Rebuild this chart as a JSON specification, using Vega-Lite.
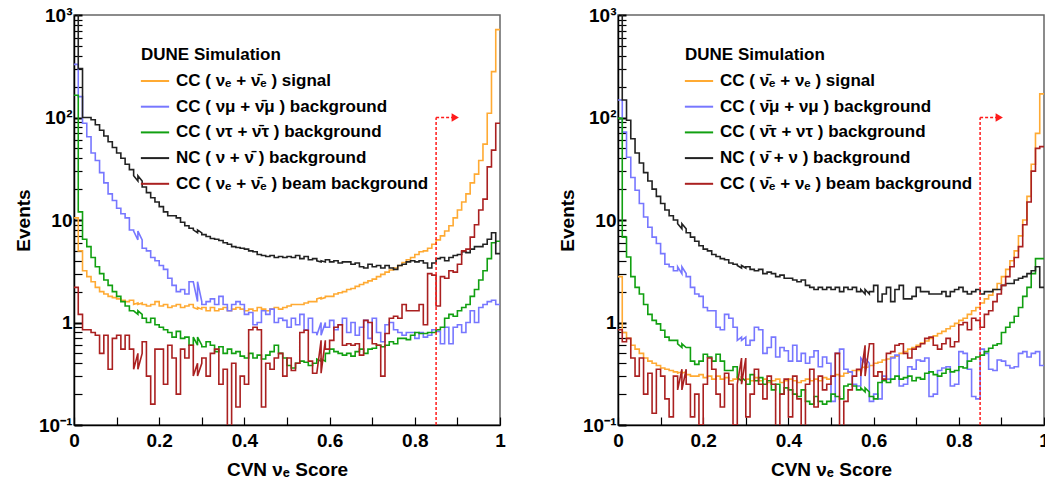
{
 "$schema": "https://vega.github.io/schema/vega-lite/v6.json",
 "padding": {"left": 13, "top": 5, "right": 0, "bottom": 0},
 "background": "white",
 "spacing": 50,
 "resolve": {"scale": {"color": "independent"}, "legend": {"color": "independent"}},
 "datasets": {
  "cut": [{"cut": 0.85, "floor": 0.1, "level": 100, "reach": 0.888, "tip": 0.895}],
  "left": [
{"x":0.005,"a":10.5,"b":330,"c":165,"d":1500,"e":2.2},
{"x":0.015,"a":5.0,"b":160,"c":12,"d":300,"e":1.2},
{"x":0.025,"a":3.2,"b":88,"c":6.5,"d":100,"e":0.85},
{"x":0.035,"a":2.8,"b":65,"c":5.5,"d":100,"e":0.85},
{"x":0.045,"a":2.5,"b":45,"c":4.3,"d":95,"e":0.8},
{"x":0.055,"a":2.2,"b":38,"c":3.5,"d":85,"e":0.75},
{"x":0.065,"a":2.0,"b":29,"c":3.0,"d":75,"e":0.5},
{"x":0.075,"a":1.9,"b":23,"c":2.6,"d":66,"e":0.75},
{"x":0.085,"a":1.8,"b":18,"c":2.3,"d":58,"e":0.35},
{"x":0.095,"a":1.75,"b":15.5,"c":2.0,"d":51,"e":0.7},
{"x":0.105,"a":1.7,"b":13,"c":1.8,"d":45,"e":0.75},
{"x":0.115,"a":1.65,"b":11.5,"c":1.6,"d":40,"e":0.55},
{"x":0.125,"a":1.6,"b":10.5,"c":1.45,"d":35,"e":0.75},
{"x":0.135,"a":1.65,"b":8,"c":1.3,"d":31,"e":0.55},
{"x":0.145,"a":1.5,"b":7.8,"c":1.3,"d":27,"e":0.35},
{"x":0.155,"a":1.55,"b":6.4,"c":1.2,"d":24,"e":0.5},
{"x":0.165,"a":1.5,"b":5.3,"c":1.1,"d":21,"e":0.65},
{"x":0.175,"a":1.45,"b":5.0,"c":1.0,"d":18.5,"e":0.3},
{"x":0.185,"a":1.5,"b":4.3,"c":1.1,"d":16.5,"e":0.16},
{"x":0.195,"a":1.6,"b":4.0,"c":0.95,"d":15,"e":0.55},
{"x":0.205,"a":1.45,"b":3.6,"c":0.9,"d":13.5,"e":0.55},
{"x":0.215,"a":1.5,"b":3.3,"c":0.85,"d":12,"e":0.25},
{"x":0.225,"a":1.4,"b":2.7,"c":0.8,"d":11,"e":0.6},
{"x":0.235,"a":1.45,"b":2.3,"c":0.72,"d":11,"e":0.45},
{"x":0.245,"a":1.5,"b":2.0,"c":0.82,"d":10.5,"e":0.2},
{"x":0.255,"a":1.4,"b":2.1,"c":0.7,"d":9.5,"e":0.55},
{"x":0.265,"a":1.45,"b":1.9,"c":0.72,"d":8.8,"e":0.45},
{"x":0.275,"a":1.5,"b":2.5,"c":0.6,"d":8.3,"e":0.6},
{"x":0.285,"a":1.4,"b":2.5,"c":0.72,"d":8.0,"e":0.3},
{"x":0.295,"a":1.35,"b":1.6,"c":0.6,"d":7.5,"e":0.4},
{"x":0.305,"a":1.4,"b":1.5,"c":0.58,"d":7.2,"e":0.45},
{"x":0.315,"a":1.3,"b":1.6,"c":0.65,"d":6.9,"e":0.3},
{"x":0.325,"a":1.4,"b":1.7,"c":0.6,"d":6.6,"e":0.5},
{"x":0.335,"a":1.3,"b":1.5,"c":0.52,"d":6.5,"e":0.55},
{"x":0.345,"a":1.35,"b":1.8,"c":0.58,"d":6.3,"e":0.25},
{"x":0.355,"a":1.4,"b":1.5,"c":0.5,"d":6.0,"e":0.35},
{"x":0.365,"a":1.3,"b":1.3,"c":0.55,"d":5.8,"e":0.06},
{"x":0.375,"a":1.35,"b":1.5,"c":0.5,"d":5.5,"e":0.4},
{"x":0.385,"a":1.4,"b":1.6,"c":0.52,"d":5.4,"e":0.15},
{"x":0.395,"a":1.35,"b":1.5,"c":0.47,"d":5.3,"e":0.3},
{"x":0.405,"a":1.3,"b":1.2,"c":0.45,"d":5.2,"e":0.25},
{"x":0.415,"a":1.35,"b":1.25,"c":0.5,"d":5.0,"e":0.85},
{"x":0.425,"a":1.3,"b":0.95,"c":0.45,"d":4.9,"e":0.9},
{"x":0.435,"a":1.4,"b":1.0,"c":0.48,"d":4.6,"e":0.85},
{"x":0.445,"a":1.35,"b":1.3,"c":0.44,"d":4.5,"e":0.15},
{"x":0.455,"a":1.3,"b":1.2,"c":0.48,"d":4.4,"e":0.4},
{"x":0.465,"a":1.35,"b":1.35,"c":0.52,"d":4.5,"e":0.35},
{"x":0.475,"a":1.4,"b":1.0,"c":0.6,"d":4.3,"e":0.45},
{"x":0.485,"a":1.35,"b":1.1,"c":0.5,"d":4.4,"e":0.5},
{"x":0.495,"a":1.4,"b":1.05,"c":0.45,"d":4.3,"e":0.3},
{"x":0.505,"a":1.45,"b":0.9,"c":0.38,"d":4.4,"e":0.45},
{"x":0.515,"a":1.5,"b":1.1,"c":0.36,"d":4.3,"e":0.34},
{"x":0.525,"a":1.5,"b":0.95,"c":0.4,"d":4.5,"e":0.4},
{"x":0.535,"a":1.5,"b":1.2,"c":0.42,"d":4.2,"e":0.8},
{"x":0.545,"a":1.55,"b":0.85,"c":0.41,"d":4.4,"e":0.84},
{"x":0.555,"a":1.6,"b":1.1,"c":0.38,"d":4.1,"e":0.42},
{"x":0.565,"a":1.6,"b":0.8,"c":0.4,"d":4.2,"e":0.32},
{"x":0.575,"a":1.7,"b":0.75,"c":0.44,"d":4.0,"e":0.32},
{"x":0.585,"a":1.75,"b":1.0,"c":0.42,"d":3.9,"e":0.67},
{"x":0.595,"a":1.8,"b":0.9,"c":0.5,"d":4.1,"e":0.55},
{"x":0.605,"a":1.8,"b":1.05,"c":0.55,"d":3.9,"e":0.67},
{"x":0.615,"a":1.9,"b":0.85,"c":0.52,"d":4.0,"e":0.9},
{"x":0.625,"a":1.95,"b":0.95,"c":0.5,"d":3.8,"e":0.95},
{"x":0.635,"a":2.0,"b":1.1,"c":0.48,"d":3.9,"e":0.6},
{"x":0.645,"a":2.1,"b":0.8,"c":0.5,"d":3.9,"e":0.62},
{"x":0.655,"a":2.15,"b":1.0,"c":0.47,"d":3.7,"e":0.6},
{"x":0.665,"a":2.25,"b":0.75,"c":0.52,"d":3.8,"e":0.62},
{"x":0.675,"a":2.35,"b":0.9,"c":0.55,"d":3.5,"e":0.48},
{"x":0.685,"a":2.45,"b":1.05,"c":0.5,"d":3.4,"e":1.05},
{"x":0.695,"a":2.55,"b":0.7,"c":0.55,"d":3.7,"e":1.0},
{"x":0.705,"a":2.65,"b":1.1,"c":0.56,"d":3.5,"e":0.62},
{"x":0.715,"a":2.8,"b":0.8,"c":0.6,"d":3.6,"e":0.6},
{"x":0.725,"a":2.95,"b":0.65,"c":0.58,"d":3.4,"e":0.3},
{"x":0.735,"a":3.1,"b":0.95,"c":0.6,"d":3.6,"e":0.78},
{"x":0.745,"a":3.25,"b":1.0,"c":0.65,"d":3.4,"e":1.1},
{"x":0.755,"a":3.4,"b":0.85,"c":0.62,"d":3.3,"e":1.15},
{"x":0.765,"a":3.6,"b":0.8,"c":0.7,"d":3.6,"e":1.1},
{"x":0.775,"a":3.85,"b":0.75,"c":0.7,"d":3.7,"e":1.5},
{"x":0.785,"a":4.1,"b":0.8,"c":0.68,"d":3.9,"e":1.3},
{"x":0.795,"a":4.3,"b":0.8,"c":0.75,"d":4.0,"e":1.3},
{"x":0.805,"a":4.6,"b":0.7,"c":0.8,"d":3.9,"e":1.3},
{"x":0.815,"a":4.9,"b":0.8,"c":0.78,"d":4.0,"e":1.5},
{"x":0.825,"a":5.0,"b":0.72,"c":0.78,"d":3.8,"e":0.95},
{"x":0.835,"a":5.3,"b":0.75,"c":0.8,"d":3.4,"e":3.0},
{"x":0.845,"a":5.8,"b":0.85,"c":0.8,"d":3.8,"e":2.9},
{"x":0.855,"a":6.4,"b":0.82,"c":0.85,"d":4.2,"e":1.45},
{"x":0.865,"a":7.0,"b":0.62,"c":0.9,"d":4.3,"e":2.8},
{"x":0.875,"a":7.8,"b":0.9,"c":1.1,"d":4.0,"e":2.7},
{"x":0.885,"a":8.8,"b":0.62,"c":1.2,"d":4.3,"e":3.2},
{"x":0.895,"a":10.5,"b":0.9,"c":1.15,"d":4.5,"e":3.1},
{"x":0.905,"a":12.5,"b":0.95,"c":1.3,"d":4.6,"e":3.7},
{"x":0.915,"a":15,"b":0.8,"c":1.4,"d":4.9,"e":5.0},
{"x":0.925,"a":18,"b":1.0,"c":1.5,"d":4.8,"e":5.2},
{"x":0.935,"a":23,"b":1.3,"c":1.8,"d":5.2,"e":6.8},
{"x":0.945,"a":28,"b":1.0,"c":2.1,"d":5.5,"e":9.0},
{"x":0.955,"a":38,"b":1.4,"c":2.6,"d":5.5,"e":12.5},
{"x":0.965,"a":55,"b":1.5,"c":3.2,"d":5.8,"e":16},
{"x":0.975,"a":110,"b":1.6,"c":4.2,"d":6.5,"e":33},
{"x":0.985,"a":280,"b":1.65,"c":6.0,"d":7.5,"e":48},
{"x":0.995,"a":720,"b":1.5,"c":6.2,"d":4.7,"e":88}
  ],
  "right": [
{"x":0.005,"a":2.8,"b":148,"c":98,"d":1500,"e":0.85},
{"x":0.015,"a":0.8,"b":72,"c":6.8,"d":148,"e":0.65},
{"x":0.025,"a":0.7,"b":41,"c":4.35,"d":94,"e":0.7},
{"x":0.035,"a":0.6,"b":26,"c":2.8,"d":62,"e":0.45},
{"x":0.045,"a":0.55,"b":19.5,"c":2.2,"d":45,"e":0.3},
{"x":0.055,"a":0.5,"b":14.5,"c":1.9,"d":36,"e":0.45},
{"x":0.065,"a":0.45,"b":10.7,"c":1.5,"d":29,"e":0.2},
{"x":0.075,"a":0.42,"b":8.5,"c":1.2,"d":24,"e":0.32},
{"x":0.085,"a":0.4,"b":6.8,"c":1.05,"d":20,"e":0.13},
{"x":0.095,"a":0.38,"b":5.9,"c":0.97,"d":17,"e":0.35},
{"x":0.105,"a":0.36,"b":4.7,"c":0.84,"d":14.5,"e":0.3},
{"x":0.115,"a":0.35,"b":3.7,"c":0.72,"d":12.5,"e":0.18},
{"x":0.125,"a":0.34,"b":3.5,"c":0.67,"d":11,"e":0.12},
{"x":0.135,"a":0.33,"b":3.2,"c":0.67,"d":10,"e":0.3},
{"x":0.145,"a":0.32,"b":3.5,"c":0.62,"d":9.2,"e":0.22},
{"x":0.155,"a":0.33,"b":3.0,"c":0.57,"d":8.2,"e":0.35},
{"x":0.165,"a":0.31,"b":2.8,"c":0.57,"d":7.5,"e":0.25},
{"x":0.175,"a":0.3,"b":2.2,"c":0.42,"d":6.8,"e":0.12},
{"x":0.185,"a":0.3,"b":1.9,"c":0.39,"d":6.2,"e":0.2},
{"x":0.195,"a":0.31,"b":1.8,"c":0.42,"d":5.6,"e":0.1},
{"x":0.205,"a":0.29,"b":1.4,"c":0.49,"d":5.2,"e":0.25},
{"x":0.215,"a":0.3,"b":1.3,"c":0.46,"d":5.0,"e":0.45},
{"x":0.225,"a":0.28,"b":1.3,"c":0.42,"d":4.6,"e":0.35},
{"x":0.235,"a":0.3,"b":0.9,"c":0.49,"d":4.4,"e":0.2},
{"x":0.245,"a":0.28,"b":0.85,"c":0.42,"d":4.2,"e":0.15},
{"x":0.255,"a":0.29,"b":1.2,"c":0.34,"d":4.1,"e":0.32},
{"x":0.265,"a":0.27,"b":1.1,"c":0.34,"d":3.8,"e":0.25},
{"x":0.275,"a":0.28,"b":0.9,"c":0.37,"d":3.7,"e":0.1},
{"x":0.285,"a":0.29,"b":0.67,"c":0.29,"d":3.6,"e":0.25},
{"x":0.295,"a":0.27,"b":0.72,"c":0.27,"d":3.4,"e":0.45},
{"x":0.305,"a":0.28,"b":0.6,"c":0.25,"d":3.5,"e":0.12},
{"x":0.315,"a":0.27,"b":0.67,"c":0.31,"d":3.3,"e":0.2},
{"x":0.325,"a":0.29,"b":0.9,"c":0.27,"d":3.2,"e":0.35},
{"x":0.335,"a":0.27,"b":0.85,"c":0.29,"d":3.3,"e":0.25},
{"x":0.345,"a":0.28,"b":0.5,"c":0.25,"d":3.0,"e":0.18},
{"x":0.355,"a":0.26,"b":0.57,"c":0.27,"d":3.1,"e":0.3},
{"x":0.365,"a":0.27,"b":0.72,"c":0.22,"d":3.0,"e":0.25},
{"x":0.375,"a":0.28,"b":0.46,"c":0.25,"d":2.8,"e":0.07},
{"x":0.385,"a":0.26,"b":0.57,"c":0.2,"d":2.9,"e":0.2},
{"x":0.395,"a":0.27,"b":0.53,"c":0.23,"d":2.7,"e":0.28},
{"x":0.405,"a":0.28,"b":0.42,"c":0.22,"d":2.7,"e":0.12},
{"x":0.415,"a":0.27,"b":0.6,"c":0.2,"d":2.6,"e":0.3},
{"x":0.425,"a":0.26,"b":0.42,"c":0.19,"d":2.5,"e":0.18},
{"x":0.435,"a":0.27,"b":0.5,"c":0.22,"d":2.6,"e":0.07},
{"x":0.445,"a":0.28,"b":0.4,"c":0.17,"d":2.3,"e":0.25},
{"x":0.455,"a":0.27,"b":0.46,"c":0.16,"d":2.2,"e":0.35},
{"x":0.465,"a":0.28,"b":0.53,"c":0.19,"d":2.1,"e":0.15},
{"x":0.475,"a":0.27,"b":0.37,"c":0.17,"d":2.2,"e":0.3},
{"x":0.485,"a":0.29,"b":0.46,"c":0.16,"d":2.1,"e":0.22},
{"x":0.495,"a":0.28,"b":0.4,"c":0.17,"d":2.2,"e":0.25},
{"x":0.505,"a":0.3,"b":0.17,"c":0.2,"d":2.1,"e":0.3},
{"x":0.515,"a":0.31,"b":0.5,"c":0.19,"d":2.2,"e":0.5},
{"x":0.525,"a":0.3,"b":0.55,"c":0.18,"d":2.0,"e":0.07},
{"x":0.535,"a":0.32,"b":0.35,"c":0.24,"d":2.2,"e":0.17},
{"x":0.545,"a":0.33,"b":0.33,"c":0.25,"d":2.1,"e":0.22},
{"x":0.555,"a":0.34,"b":0.25,"c":0.24,"d":2.2,"e":0.3},
{"x":0.565,"a":0.34,"b":0.24,"c":0.22,"d":2.0,"e":0.35},
{"x":0.575,"a":0.36,"b":0.45,"c":0.23,"d":2.1,"e":0.3},
{"x":0.585,"a":0.37,"b":0.4,"c":0.21,"d":1.9,"e":0.6},
{"x":0.595,"a":0.38,"b":0.17,"c":0.19,"d":2.0,"e":0.62},
{"x":0.605,"a":0.4,"b":0.2,"c":0.18,"d":2.3,"e":0.3},
{"x":0.615,"a":0.41,"b":0.18,"c":0.26,"d":1.6,"e":0.33},
{"x":0.625,"a":0.43,"b":0.3,"c":0.27,"d":1.9,"e":0.28},
{"x":0.635,"a":0.44,"b":0.28,"c":0.26,"d":2.2,"e":0.5},
{"x":0.645,"a":0.46,"b":0.45,"c":0.28,"d":1.6,"e":0.52},
{"x":0.655,"a":0.47,"b":0.48,"c":0.3,"d":2.1,"e":0.6},
{"x":0.665,"a":0.5,"b":0.24,"c":0.28,"d":2.3,"e":0.62},
{"x":0.675,"a":0.52,"b":0.25,"c":0.29,"d":1.7,"e":0.5},
{"x":0.685,"a":0.55,"b":0.37,"c":0.3,"d":1.7,"e":0.45},
{"x":0.695,"a":0.57,"b":0.35,"c":0.27,"d":1.8,"e":0.55},
{"x":0.705,"a":0.6,"b":0.43,"c":0.29,"d":2.2,"e":0.58},
{"x":0.715,"a":0.63,"b":0.42,"c":0.28,"d":2.0,"e":0.62},
{"x":0.725,"a":0.66,"b":0.45,"c":0.32,"d":2.0,"e":0.7},
{"x":0.735,"a":0.7,"b":0.19,"c":0.33,"d":1.9,"e":0.72},
{"x":0.745,"a":0.74,"b":0.2,"c":0.31,"d":1.9,"e":0.6},
{"x":0.755,"a":0.78,"b":0.34,"c":0.3,"d":1.9,"e":0.55},
{"x":0.765,"a":0.82,"b":0.36,"c":0.32,"d":2.0,"e":0.62},
{"x":0.775,"a":0.87,"b":0.37,"c":0.35,"d":1.8,"e":0.7},
{"x":0.785,"a":0.92,"b":0.24,"c":0.33,"d":2.0,"e":0.58},
{"x":0.795,"a":0.98,"b":0.25,"c":0.34,"d":2.1,"e":0.65},
{"x":0.805,"a":1.05,"b":0.52,"c":0.37,"d":2.2,"e":0.95},
{"x":0.815,"a":1.1,"b":0.5,"c":0.36,"d":2.0,"e":1.0},
{"x":0.825,"a":1.2,"b":0.35,"c":0.42,"d":1.9,"e":0.85},
{"x":0.835,"a":1.3,"b":0.19,"c":0.44,"d":2.0,"e":1.1},
{"x":0.845,"a":1.4,"b":0.18,"c":0.46,"d":2.1,"e":1.05},
{"x":0.855,"a":1.55,"b":0.55,"c":0.48,"d":1.9,"e":0.9},
{"x":0.865,"a":1.7,"b":0.5,"c":0.52,"d":2.0,"e":1.2},
{"x":0.875,"a":1.85,"b":0.35,"c":0.56,"d":2.0,"e":1.3},
{"x":0.885,"a":2.1,"b":0.34,"c":0.6,"d":2.1,"e":1.6},
{"x":0.895,"a":2.4,"b":0.43,"c":0.62,"d":2.1,"e":1.9},
{"x":0.905,"a":2.8,"b":0.42,"c":0.8,"d":2.3,"e":2.3},
{"x":0.915,"a":3.3,"b":0.38,"c":0.9,"d":2.4,"e":2.8},
{"x":0.925,"a":4.0,"b":0.36,"c":1.0,"d":2.4,"e":3.5},
{"x":0.935,"a":5.0,"b":0.37,"c":1.15,"d":2.6,"e":4.3},
{"x":0.945,"a":7.0,"b":0.5,"c":1.4,"d":2.7,"e":5.5},
{"x":0.955,"a":10,"b":0.52,"c":1.8,"d":2.8,"e":9},
{"x":0.965,"a":17,"b":0.46,"c":2.2,"d":3.0,"e":15},
{"x":0.975,"a":35,"b":0.5,"c":3.0,"d":3.2,"e":30},
{"x":0.985,"a":70,"b":0.52,"c":4.2,"d":3.5,"e":50},
{"x":0.995,"a":170,"b":0.38,"c":4.2,"d":2.2,"e":52}
  ]
 },
 "hconcat": [
  {
   "width": 426, "height": 410,
   "layer": [
    {
     "data": {"name": "left"},
     "transform": [
      {"fold": ["a","b","c","d","e"], "as": ["series","val"]},
      {"bin": {"step": 0.01, "extent": [0,1]}, "field": "x", "as": ["x0","x1"]},
      {"fold": ["x0","x1"], "as": ["edge","xe"]}
     ],
     "mark": {"type": "line", "strokeWidth": 1.6, "clip": true},
     "encoding": {
      "x": {"field": "xe", "type": "quantitative", "title": "CVN \u03bd\u2091 Score", "scale": {"domain": [0,1], "nice": false, "zero": false},
            "axis": {"values": [0,0.05,0.1,0.15,0.2,0.25,0.3,0.35,0.4,0.45,0.5,0.55,0.6,0.65,0.7,0.75,0.8,0.85,0.9,0.95,1],
                     "labelExpr": "datum.value == 0 ? '0' : datum.value == 1 ? '1' : (abs(datum.value*5 - round(datum.value*5)) < 0.001 ? format(datum.value, '.1f') : '')",
                     "tickSize": -8, "labelPadding": 14, "titlePadding": 10}},
      "y": {"field": "val", "type": "quantitative", "title": "Events", "scale": {"type": "log", "domain": [0.1,1000], "nice": false},
            "axis": {"values": [0.1,0.2,0.3,0.4,0.5,0.6,0.7,0.8,0.9,1,2,3,4,5,6,7,8,9,10,20,30,40,50,60,70,80,90,100,200,300,400,500,600,700,800,900,1000],
                     "labelExpr": "datum.value == 1000 ? '10\u00b3' : datum.value == 100 ? '10\u00b2' : datum.value == 10 ? '10' : datum.value == 1 ? '1' : datum.value == 0.1 ? '10\u207b\u00b9' : ''",
                     "tickSize": -8,
                     "tickWidth": {"condition": {"test": "datum.value == 0.1 || datum.value == 1 || datum.value == 10 || datum.value == 100 || datum.value == 1000", "value": 2}, "value": 1.2},
                     "labelPadding": 10, "titlePadding": 5}},
      "color": {"field": "series", "type": "nominal",
                "scale": {"domain": ["a","b","c","d","e"], "range": ["#ffaa33","#7777ff","#11a011","#222222","#aa2020"]},
                "legend": {"title": "DUNE Simulation", "orient": "none", "legendX": 67, "legendY": 32,
                           "symbolType": "M-1.1,0H1.1", "symbolSize": 660, "symbolStrokeWidth": 2,
                           "labelExpr": "{'a': 'CC ( \u03bd\u2091 + \u03bd\u0304\u2091 ) signal', 'b': 'CC ( \u03bd\u03bc + \u03bd\u0304\u03bc ) background', 'c': 'CC ( \u03bd\u03c4 + \u03bd\u0304\u03c4 ) background', 'd': 'NC ( \u03bd + \u03bd\u0304 ) background', 'e': 'CC ( \u03bd\u2091 + \u03bd\u0304\u2091 ) beam background'}[datum.value]",
                           "labelFontSize": 17, "labelFontWeight": "bold", "labelFont": "Liberation Sans", "labelColor": "black", "labelLimit": 0, "labelOffset": 7,
                           "titleFontSize": 17, "titleFontWeight": "bold", "titleFont": "Liberation Sans", "titleColor": "black", "titlePadding": 3, "titleLimit": 0,
                           "rowPadding": 3.7, "padding": 0}},
      "order": {"field": "xe", "type": "quantitative"}
     }
    },
    {
     "data": {"name": "cut"},
     "mark": {"type": "rule", "color": "#ff1a1a", "strokeDash": [3,2], "strokeWidth": 1.5},
     "encoding": {"x": {"field": "cut", "type": "quantitative", "title": "CVN \u03bd\u2091 Score"}, "y": {"field": "floor", "type": "quantitative", "title": "Events"}, "y2": {"field": "level"}}
    },
    {
     "data": {"name": "cut"},
     "mark": {"type": "rule", "color": "#ff1a1a", "strokeDash": [3,2], "strokeWidth": 1.5},
     "encoding": {"x": {"field": "cut", "type": "quantitative", "title": "CVN \u03bd\u2091 Score"}, "x2": {"field": "reach"}, "y": {"field": "level", "type": "quantitative", "title": "Events"}}
    },
    {
     "data": {"name": "cut"},
     "mark": {"type": "point", "shape": "triangle-right", "filled": true, "size": 70, "color": "#ff1a1a", "opacity": 1},
     "encoding": {"x": {"field": "tip", "type": "quantitative", "title": "CVN \u03bd\u2091 Score"}, "y": {"field": "level", "type": "quantitative", "title": "Events"}}
    }
   ]
  },
  {
   "width": 426, "height": 410,
   "layer": [
    {
     "data": {"name": "right"},
     "transform": [
      {"fold": ["a","b","c","d","e"], "as": ["series","val"]},
      {"bin": {"step": 0.01, "extent": [0,1]}, "field": "x", "as": ["x0","x1"]},
      {"fold": ["x0","x1"], "as": ["edge","xe"]}
     ],
     "mark": {"type": "line", "strokeWidth": 1.6, "clip": true},
     "encoding": {
      "x": {"field": "xe", "type": "quantitative", "title": "CVN \u03bd\u2091 Score", "scale": {"domain": [0,1], "nice": false, "zero": false},
            "axis": {"values": [0,0.05,0.1,0.15,0.2,0.25,0.3,0.35,0.4,0.45,0.5,0.55,0.6,0.65,0.7,0.75,0.8,0.85,0.9,0.95,1],
                     "labelExpr": "datum.value == 0 ? '0' : datum.value == 1 ? '1' : (abs(datum.value*5 - round(datum.value*5)) < 0.001 ? format(datum.value, '.1f') : '')",
                     "tickSize": -8, "labelPadding": 14, "titlePadding": 10}},
      "y": {"field": "val", "type": "quantitative", "title": "Events", "scale": {"type": "log", "domain": [0.1,1000], "nice": false},
            "axis": {"values": [0.1,0.2,0.3,0.4,0.5,0.6,0.7,0.8,0.9,1,2,3,4,5,6,7,8,9,10,20,30,40,50,60,70,80,90,100,200,300,400,500,600,700,800,900,1000],
                     "labelExpr": "datum.value == 1000 ? '10\u00b3' : datum.value == 100 ? '10\u00b2' : datum.value == 10 ? '10' : datum.value == 1 ? '1' : datum.value == 0.1 ? '10\u207b\u00b9' : ''",
                     "tickSize": -8,
                     "tickWidth": {"condition": {"test": "datum.value == 0.1 || datum.value == 1 || datum.value == 10 || datum.value == 100 || datum.value == 1000", "value": 2}, "value": 1.2},
                     "labelPadding": 10, "titlePadding": 5}},
      "color": {"field": "series", "type": "nominal",
                "scale": {"domain": ["a","b","c","d","e"], "range": ["#ffaa33","#7777ff","#11a011","#222222","#aa2020"]},
                "legend": {"title": "DUNE Simulation", "orient": "none", "legendX": 67, "legendY": 32,
                           "symbolType": "M-1.1,0H1.1", "symbolSize": 660, "symbolStrokeWidth": 2,
                           "labelExpr": "{'a': 'CC ( \u03bd\u0304\u2091 + \u03bd\u2091 ) signal', 'b': 'CC ( \u03bd\u0304\u03bc + \u03bd\u03bc ) background', 'c': 'CC ( \u03bd\u0304\u03c4 + \u03bd\u03c4 ) background', 'd': 'NC ( \u03bd\u0304 + \u03bd ) background', 'e': 'CC ( \u03bd\u0304\u2091 + \u03bd\u2091 ) beam background'}[datum.value]",
                           "labelFontSize": 17, "labelFontWeight": "bold", "labelFont": "Liberation Sans", "labelColor": "black", "labelLimit": 0, "labelOffset": 7,
                           "titleFontSize": 17, "titleFontWeight": "bold", "titleFont": "Liberation Sans", "titleColor": "black", "titlePadding": 3, "titleLimit": 0,
                           "rowPadding": 3.7, "padding": 0}},
      "order": {"field": "xe", "type": "quantitative"}
     }
    },
    {
     "data": {"name": "cut"},
     "mark": {"type": "rule", "color": "#ff1a1a", "strokeDash": [3,2], "strokeWidth": 1.5},
     "encoding": {"x": {"field": "cut", "type": "quantitative", "title": "CVN \u03bd\u2091 Score"}, "y": {"field": "floor", "type": "quantitative", "title": "Events"}, "y2": {"field": "level"}}
    },
    {
     "data": {"name": "cut"},
     "mark": {"type": "rule", "color": "#ff1a1a", "strokeDash": [3,2], "strokeWidth": 1.5},
     "encoding": {"x": {"field": "cut", "type": "quantitative", "title": "CVN \u03bd\u2091 Score"}, "x2": {"field": "reach"}, "y": {"field": "level", "type": "quantitative", "title": "Events"}}
    },
    {
     "data": {"name": "cut"},
     "mark": {"type": "point", "shape": "triangle-right", "filled": true, "size": 70, "color": "#ff1a1a", "opacity": 1},
     "encoding": {"x": {"field": "tip", "type": "quantitative", "title": "CVN \u03bd\u2091 Score"}, "y": {"field": "level", "type": "quantitative", "title": "Events"}}
    }
   ]
  }
 ],
 "config": {
  "font": "Liberation Sans",
  "view": {"stroke": "#666666", "strokeWidth": 1.5},
  "axis": {"labelFont": "Liberation Sans", "labelFontSize": 19, "labelFontWeight": "bold", "labelColor": "black",
           "titleFont": "Liberation Sans", "titleFontSize": 19, "titleFontWeight": "bold", "titleColor": "black",
           "domainColor": "black", "domainWidth": 1.5, "tickColor": "black", "tickWidth": 1.2, "grid": false,
           "labelFlush": false, "labelOverlap": false, "labelBound": false}
 }
}
